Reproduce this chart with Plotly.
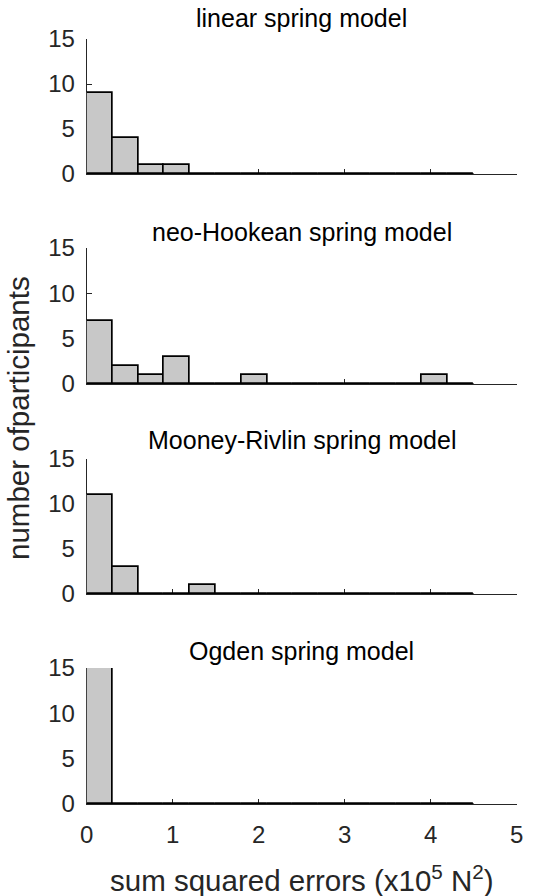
import plotly.graph_objects as go
from plotly.subplots import make_subplots

# ---- data ----
model_names = ["linear spring model", "neo-Hookean spring model",
               "Mooney-Rivlin spring model", "Ogden spring model"]
bin_edges = [0.0, 0.3, 0.6, 0.9, 1.2, 1.5, 1.8, 2.1, 2.4, 2.7, 3.0, 3.3, 3.6, 3.9, 4.2, 4.5]
bin_width = 0.3
counts_linear = [9, 4, 1, 1, 0, 0, 0, 0, 0, 0, 0, 0, 0, 0, 0]
counts_neo = [7, 2, 1, 3, 0, 0, 1, 0, 0, 0, 0, 0, 0, 1, 0]
counts_mooney = [11, 3, 0, 0, 1, 0, 0, 0, 0, 0, 0, 0, 0, 0, 0]
counts_ogden = [15, 0, 0, 0, 0, 0, 0, 0, 0, 0, 0, 0, 0, 0, 0]
x_ticks = [0, 1, 2, 3, 4, 5]
y_ticks = [0, 5, 10, 15]
x_title = "sum squared errors (x10<sup>5</sup> N<sup>2</sup>)"
y_title = "number ofparticipants"

all_counts = [counts_linear, counts_neo, counts_mooney, counts_ogden]

# ---- layout geometry (pixels) ----
W, H = 535, 896
x_left, x_right = 86.7, 516.7
panels_px = [(39, 174), (248, 384), (459, 594), (668, 804)]
title_px = [17.5, 231.5, 440, 651]

FONT = "Liberation Sans, Arial, sans-serif"
AX = "#262626"

fig = make_subplots(rows=4, cols=1)

for i, counts in enumerate(all_counts):
    r = i + 1
    fig.add_trace(go.Bar(
        x=bin_edges[:-1], y=counts, width=bin_width, offset=0,
        marker=dict(color="#c8c8c8", line=dict(color="black", width=1.7)),
        cliponaxis=False, showlegend=False, hoverinfo="skip"), row=r, col=1)
    fig.add_trace(go.Scatter(
        x=[bin_edges[0], bin_edges[-1]], y=[0, 0], mode="lines",
        line=dict(color="black", width=1.7), cliponaxis=False,
        showlegend=False, hoverinfo="skip"), row=r, col=1)

for i, (top, bot) in enumerate(panels_px):
    sfx = "" if i == 0 else str(i + 1)
    fig.layout["xaxis" + sfx].update(
        domain=[x_left / W, x_right / W], range=[0, 5], tickvals=x_ticks,
        ticks="inside", ticklen=5, tickwidth=1, tickcolor=AX,
        showline=True, linecolor=AX, linewidth=1, showgrid=False, zeroline=False,
        showticklabels=(i == 3), tickfont=dict(family=FONT, size=24, color=AX),
        ticklabelstandoff=9, automargin=False,
        layer="below traces", fixedrange=True)
    fig.layout["yaxis" + sfx].update(
        domain=[1 - bot / H, 1 - top / H], range=[0, 15], tickvals=y_ticks,
        ticks="inside", ticklen=5, tickwidth=1, tickcolor=AX,
        showline=True, linecolor=AX, linewidth=1, showgrid=False, zeroline=False,
        tickfont=dict(family=FONT, size=24, color=AX),
        ticklabelstandoff=6, automargin=False,
        layer="below traces", fixedrange=True)
    fig.add_annotation(
        text=model_names[i], xref="paper", yref="paper",
        x=(x_left + x_right) / 2 / W, y=1 - title_px[i] / H,
        xanchor="center", yanchor="middle", showarrow=False,
        font=dict(family=FONT, size=25, color="black"))

fig.add_annotation(
    text=x_title, xref="paper", yref="paper",
    x=(x_left + x_right) / 2 / W, y=1 - 878 / H,
    xanchor="center", yanchor="middle", showarrow=False,
    font=dict(family=FONT, size=29.5, color=AX))

fig.add_annotation(
    text=y_title, xref="paper", yref="paper", x=18 / W, y=1 - 418 / H,
    xanchor="center", yanchor="middle", textangle=-90, showarrow=False,
    font=dict(family=FONT, size=29.5, color=AX))

fig.update_layout(
    width=W, height=H, margin=dict(l=0, r=0, t=0, b=0, autoexpand=False),
    paper_bgcolor="white", plot_bgcolor="white", bargap=0,
    font=dict(family=FONT))

fig.write_html("out.html")
